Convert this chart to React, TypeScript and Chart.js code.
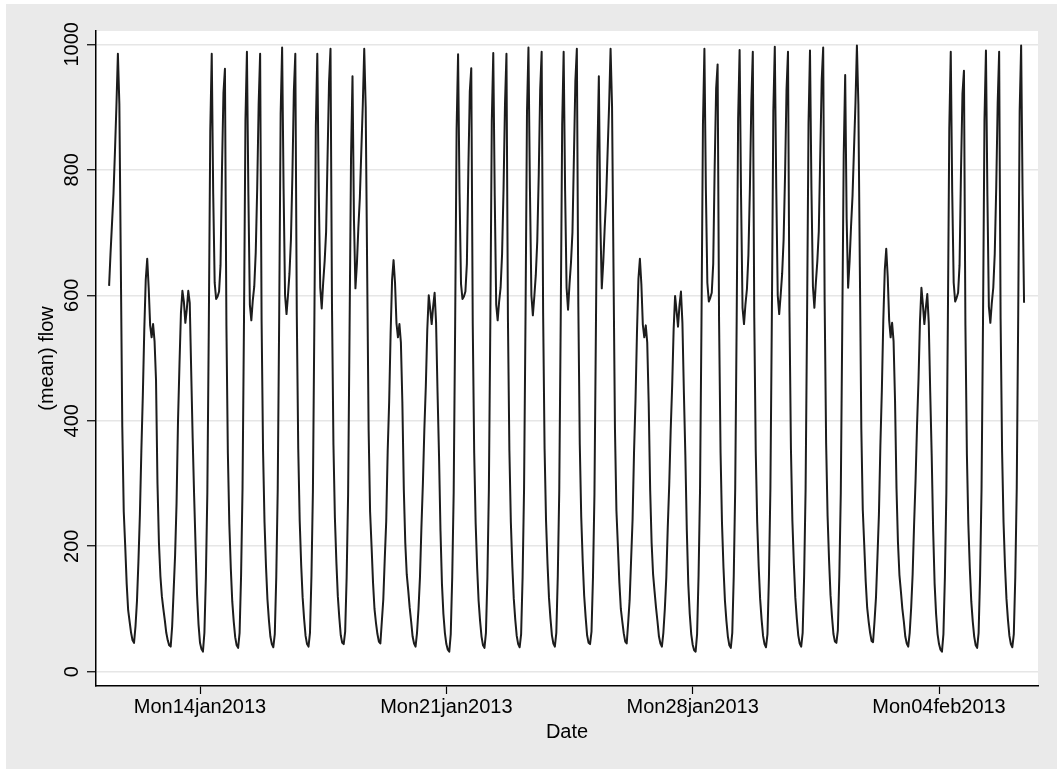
import React, { useEffect, useRef } from 'react';
import { Chart, registerables } from 'chart.js';

Chart.register(...registerables);

// Hourly (mean) flow, one array per day. Hours 0–23 unless noted.
const fri11jan = [615, 668, 715, 762, 829, 902, 985, 905, 648, 390, 255, 200, 140, 98]; // hours 10–23
const sat12jan = [80, 62, 50, 46, 72, 112, 175, 250, 352, 440, 545, 625, 658, 612, 552, 533, 554, 527, 465, 300, 205, 152, 120, 100];
const sun13jan = [82, 62, 50, 42, 40, 72, 128, 185, 268, 400, 490, 572, 607, 590, 556, 578, 607, 588, 478, 372, 280, 198, 122, 75];
const mon14jan = [46, 36, 32, 62, 150, 285, 550, 862, 985, 762, 620, 594, 598, 606, 648, 802, 923, 961, 553, 348, 235, 165, 112, 80];
const tue15jan = [55, 42, 38, 62, 152, 292, 560, 880, 988, 760, 585, 560, 592, 614, 668, 770, 905, 985, 560, 352, 238, 168, 115, 82];
const wed16jan = [56, 44, 39, 60, 150, 290, 565, 890, 995, 770, 600, 570, 600, 634, 688, 790, 925, 985, 570, 355, 240, 170, 118, 84];
const thu17jan = [57, 44, 40, 62, 152, 288, 560, 870, 985, 765, 612, 579, 620, 654, 701, 822, 940, 993, 585, 362, 245, 175, 120, 86];
const fri18jan = [58, 46, 44, 64, 150, 282, 545, 820, 949, 720, 611, 650, 708, 755, 829, 902, 993, 900, 640, 385, 255, 200, 142, 100];
const sat19jan = [78, 60, 48, 45, 80, 115, 180, 240, 352, 430, 540, 625, 656, 620, 555, 533, 554, 525, 430, 290, 205, 155, 130, 102];
const sun20jan = [80, 56, 45, 40, 62, 100, 150, 230, 300, 386, 455, 545, 600, 578, 554, 582, 604, 556, 445, 345, 225, 140, 92, 62];
const mon21jan = [44, 35, 32, 60, 150, 285, 552, 865, 984, 762, 618, 594, 598, 606, 650, 800, 925, 962, 555, 348, 236, 166, 113, 81];
const tue22jan = [56, 42, 38, 62, 150, 290, 558, 878, 986, 758, 585, 560, 590, 612, 665, 768, 905, 985, 562, 352, 238, 168, 116, 83];
const wed23jan = [57, 44, 39, 60, 150, 292, 566, 892, 995, 770, 600, 568, 598, 632, 686, 790, 928, 988, 572, 355, 240, 172, 118, 85];
const thu24jan = [58, 45, 40, 62, 152, 288, 560, 872, 988, 766, 612, 577, 618, 652, 700, 820, 942, 993, 586, 362, 246, 176, 121, 87];
const fri25jan = [58, 46, 44, 64, 150, 282, 546, 822, 949, 720, 611, 652, 708, 756, 830, 903, 993, 902, 642, 386, 256, 200, 142, 100];
const sat26jan = [80, 61, 48, 45, 78, 114, 178, 242, 350, 432, 540, 626, 658, 618, 553, 533, 552, 525, 428, 290, 205, 155, 128, 102];
const sun27jan = [80, 56, 45, 40, 62, 100, 150, 230, 298, 385, 455, 545, 599, 575, 550, 584, 606, 556, 445, 345, 225, 140, 92, 60];
const mon28jan = [43, 34, 32, 60, 152, 288, 556, 872, 993, 768, 620, 590, 596, 604, 650, 805, 930, 968, 558, 350, 236, 166, 113, 81];
const tue29jan = [56, 42, 38, 62, 152, 292, 560, 882, 991, 756, 580, 554, 586, 610, 664, 768, 908, 988, 564, 352, 238, 168, 116, 83];
const wed30jan = [57, 44, 39, 60, 150, 292, 568, 894, 996, 770, 600, 570, 600, 634, 688, 792, 928, 988, 574, 356, 240, 172, 118, 85];
const thu31jan = [58, 45, 40, 62, 152, 290, 562, 874, 990, 768, 614, 580, 620, 654, 702, 824, 944, 995, 590, 365, 248, 178, 122, 88];
const fri01feb = [60, 48, 46, 66, 152, 284, 548, 824, 951, 722, 612, 654, 710, 758, 832, 905, 998, 905, 645, 388, 258, 202, 144, 102];
const sat02feb = [80, 62, 49, 47, 80, 118, 182, 250, 360, 448, 560, 640, 674, 630, 560, 533, 556, 527, 432, 292, 206, 154, 128, 100];
const sun03feb = [80, 56, 45, 40, 62, 102, 155, 235, 305, 392, 465, 558, 612, 585, 554, 580, 602, 556, 445, 345, 225, 140, 92, 60];
const mon04feb = [44, 35, 32, 60, 150, 285, 552, 866, 988, 764, 620, 590, 596, 604, 648, 800, 922, 958, 552, 347, 235, 165, 112, 80];
const tue05feb = [56, 42, 38, 62, 152, 292, 560, 880, 990, 758, 582, 556, 588, 612, 666, 770, 906, 988, 562, 352, 238, 168, 116, 83];
const wed06feb = [57, 44, 39, 60, 150, 292, 568, 894, 998, 760, 588]; // hours 0–10

const days = [
  fri11jan, sat12jan, sun13jan, mon14jan, tue15jan, wed16jan, thu17jan, fri18jan,
  sat19jan, sun20jan, mon21jan, tue22jan, wed23jan, thu24jan, fri25jan, sat26jan,
  sun27jan, mon28jan, tue29jan, wed30jan, thu31jan, fri01feb, sat02feb, sun03feb,
  mon04feb, tue05feb, wed06feb,
];

// First observation: Fri 11 Jan 2013 10:00, in hours relative to Mon 14 Jan 2013 00:00
const firstHour = -62;

const xTickHours = [0, 168, 336, 504];
const xTickLabels = ['Mon14jan2013', 'Mon21jan2013', 'Mon28jan2013', 'Mon04feb2013'];
const yTicks = [0, 200, 400, 600, 800, 1000];
const xTitle = 'Date';
const yTitle = '(mean) flow';

const FONT = '20px "Liberation Sans", Arial, Helvetica, sans-serif';

const stataPlugin = {
  id: 'stataLook',
  beforeDraw(chart: any) {
    const { ctx, chartArea: a } = chart;
    ctx.save();
    ctx.fillStyle = '#ffffff';
    ctx.fillRect(a.left, a.top, a.right - a.left, a.bottom - a.top);
    ctx.restore();
  },
  afterDraw(chart: any) {
    const { ctx, chartArea: a, scales } = chart;
    const xs = scales.x;
    const ys = scales.y;
    ctx.save();
    ctx.fillStyle = '#000000';
    ctx.font = FONT;
    ctx.textAlign = 'center';
    ctx.textBaseline = 'alphabetic';
    xTickHours.forEach((h, i) => {
      ctx.fillText(xTickLabels[i], xs.getPixelForValue(h), a.bottom + 27);
    });
    ctx.fillText(xTitle, (a.left + a.right) / 2, a.bottom + 52);
    yTicks.forEach((v) => {
      const y = ys.getPixelForValue(v);
      ctx.save();
      ctx.translate(a.left - 18, y);
      ctx.rotate(-Math.PI / 2);
      ctx.fillText(String(v), 0, 0);
      ctx.restore();
    });
    ctx.save();
    ctx.translate(a.left - 43, (a.top + a.bottom) / 2);
    ctx.rotate(-Math.PI / 2);
    ctx.fillText(yTitle, 0, 0);
    ctx.restore();
    ctx.restore();
  },
};

export default function App() {
  const canvasRef = useRef<HTMLCanvasElement | null>(null);

  useEffect(() => {
    const canvas = canvasRef.current;
    if (!canvas) return;
    const flow = days.flat();
    const points = flow.map((v, i) => ({ x: firstHour + i, y: v }));

    const chart = new Chart(canvas, {
      type: 'line',
      data: {
        datasets: [
          {
            data: points,
            borderColor: '#1c1c1c',
            borderWidth: 2,
            pointRadius: 0,
            tension: 0,
            fill: false,
            borderJoinStyle: 'round',
          },
        ],
      },
      options: {
        animation: false,
        responsive: false,
        devicePixelRatio: 1,
        events: [],
        layout: { padding: { top: 31, right: 19, left: 0, bottom: 0 } },
        plugins: { legend: { display: false }, tooltip: { enabled: false } },
        scales: {
          x: {
            type: 'linear',
            min: -70.93,
            max: 571.5,
            afterBuildTicks: (s: any) => {
              s.ticks = xTickHours.map((v) => ({ value: v }));
            },
            afterFit: (s: any) => {
              s.height = 83;
            },
            ticks: { display: false },
            grid: {
              drawOnChartArea: false,
              drawTicks: true,
              tickLength: 8,
              tickColor: '#000000',
              tickWidth: 1.2,
            },
            border: { display: true, color: '#000000', width: 1.5 },
          },
          y: {
            type: 'linear',
            min: -22.8,
            max: 1021.2,
            afterBuildTicks: (s: any) => {
              s.ticks = yTicks.map((v) => ({ value: v }));
            },
            afterFit: (s: any) => {
              s.width = 96;
            },
            ticks: { display: false },
            grid: {
              color: '#e6e6e6',
              lineWidth: 1.5,
              drawTicks: true,
              tickLength: 9,
              tickColor: '#000000',
              tickWidth: 1.2,
            },
            border: { display: true, color: '#000000', width: 1.5 },
          },
        },
      },
      plugins: [stataPlugin],
    } as any);

    return () => chart.destroy();
  }, []);

  return (
    <div
      style={{
        position: 'fixed',
        left: 0,
        top: 0,
        width: 1057,
        height: 769,
        background: '#ffffff',
        overflow: 'hidden',
      }}
    >
      <div
        style={{
          position: 'absolute',
          left: 6,
          top: 4,
          right: 0,
          bottom: 0,
          background: '#eaeaea',
        }}
      />
      <canvas
        ref={canvasRef}
        width={1057}
        height={769}
        style={{ position: 'absolute', left: 0, top: 0, display: 'block' }}
      />
    </div>
  );
}
